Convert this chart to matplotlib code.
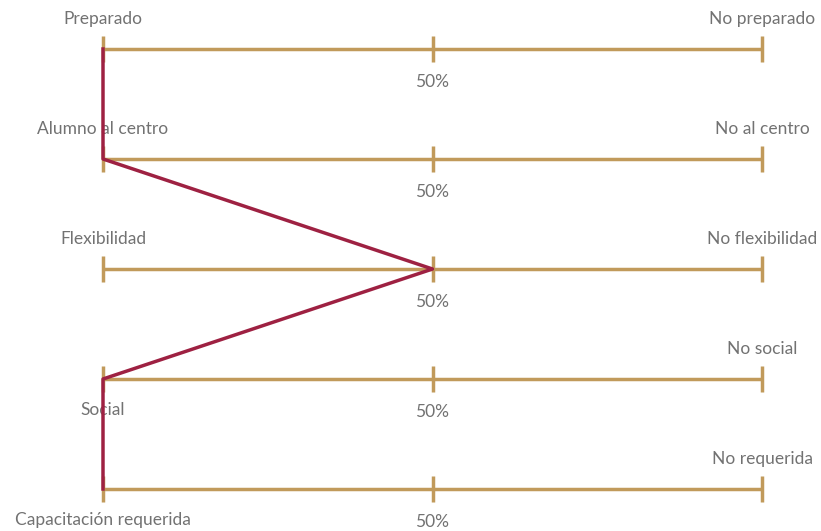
import matplotlib
matplotlib.use("Agg")
import matplotlib.pyplot as plt

plt.rcParams['font.family'] = ['Lato', 'DejaVu Sans']

left_labels = ["Preparado", "Alumno al centro", "Flexibilidad", "Social", "Capacitación requerida"]
right_labels = ["No preparado", "No al centro", "No flexibilidad", "No social", "No requerida"]
left_below = [False, False, False, True, True]
values = [0, 0, 50, 0, 0]
ticks = [0, 50, 100]
mid_label = "50%"

gold = "#c19a5b"
red = "#9e2142"
grey = "#727272"

W, H = 821, 531
fig = plt.figure(figsize=(W / 100, H / 100), dpi=100)
ax = fig.add_axes([103 / W, (H - 489) / H, 659 / W, 440 / H])
ax.set_xlim(0, 100)
ax.set_ylim(len(left_labels) - 1, 0)
ax.axis("off")

fs = 12.5
rows = list(range(len(left_labels)))
for r in rows:
    ax.plot([ticks[0], ticks[-1]], [r, r], color=gold, lw=2.5, clip_on=False, solid_capstyle="butt", zorder=1)
    for t in ticks:
        ax.plot([t], [r], marker="|", markersize=19, markeredgewidth=2.5, color=gold, clip_on=False, zorder=1)
    dy = -31 if left_below[r] else 30
    ax.annotate(left_labels[r], (ticks[0], r), xytext=(0, dy), textcoords="offset pixels",
                ha="center", va="center", color=grey, fontsize=fs)
    ax.annotate(right_labels[r], (ticks[-1], r), xytext=(0, 30), textcoords="offset pixels",
                ha="center", va="center", color=grey, fontsize=fs)
    ax.annotate(mid_label, (ticks[1], r), xytext=(0, -33), textcoords="offset pixels",
                ha="center", va="center", color=grey, fontsize=fs)

ax.plot(values, rows, color=red, lw=2.5, clip_on=False, zorder=3)

fig.savefig("out.png", dpi=100)
